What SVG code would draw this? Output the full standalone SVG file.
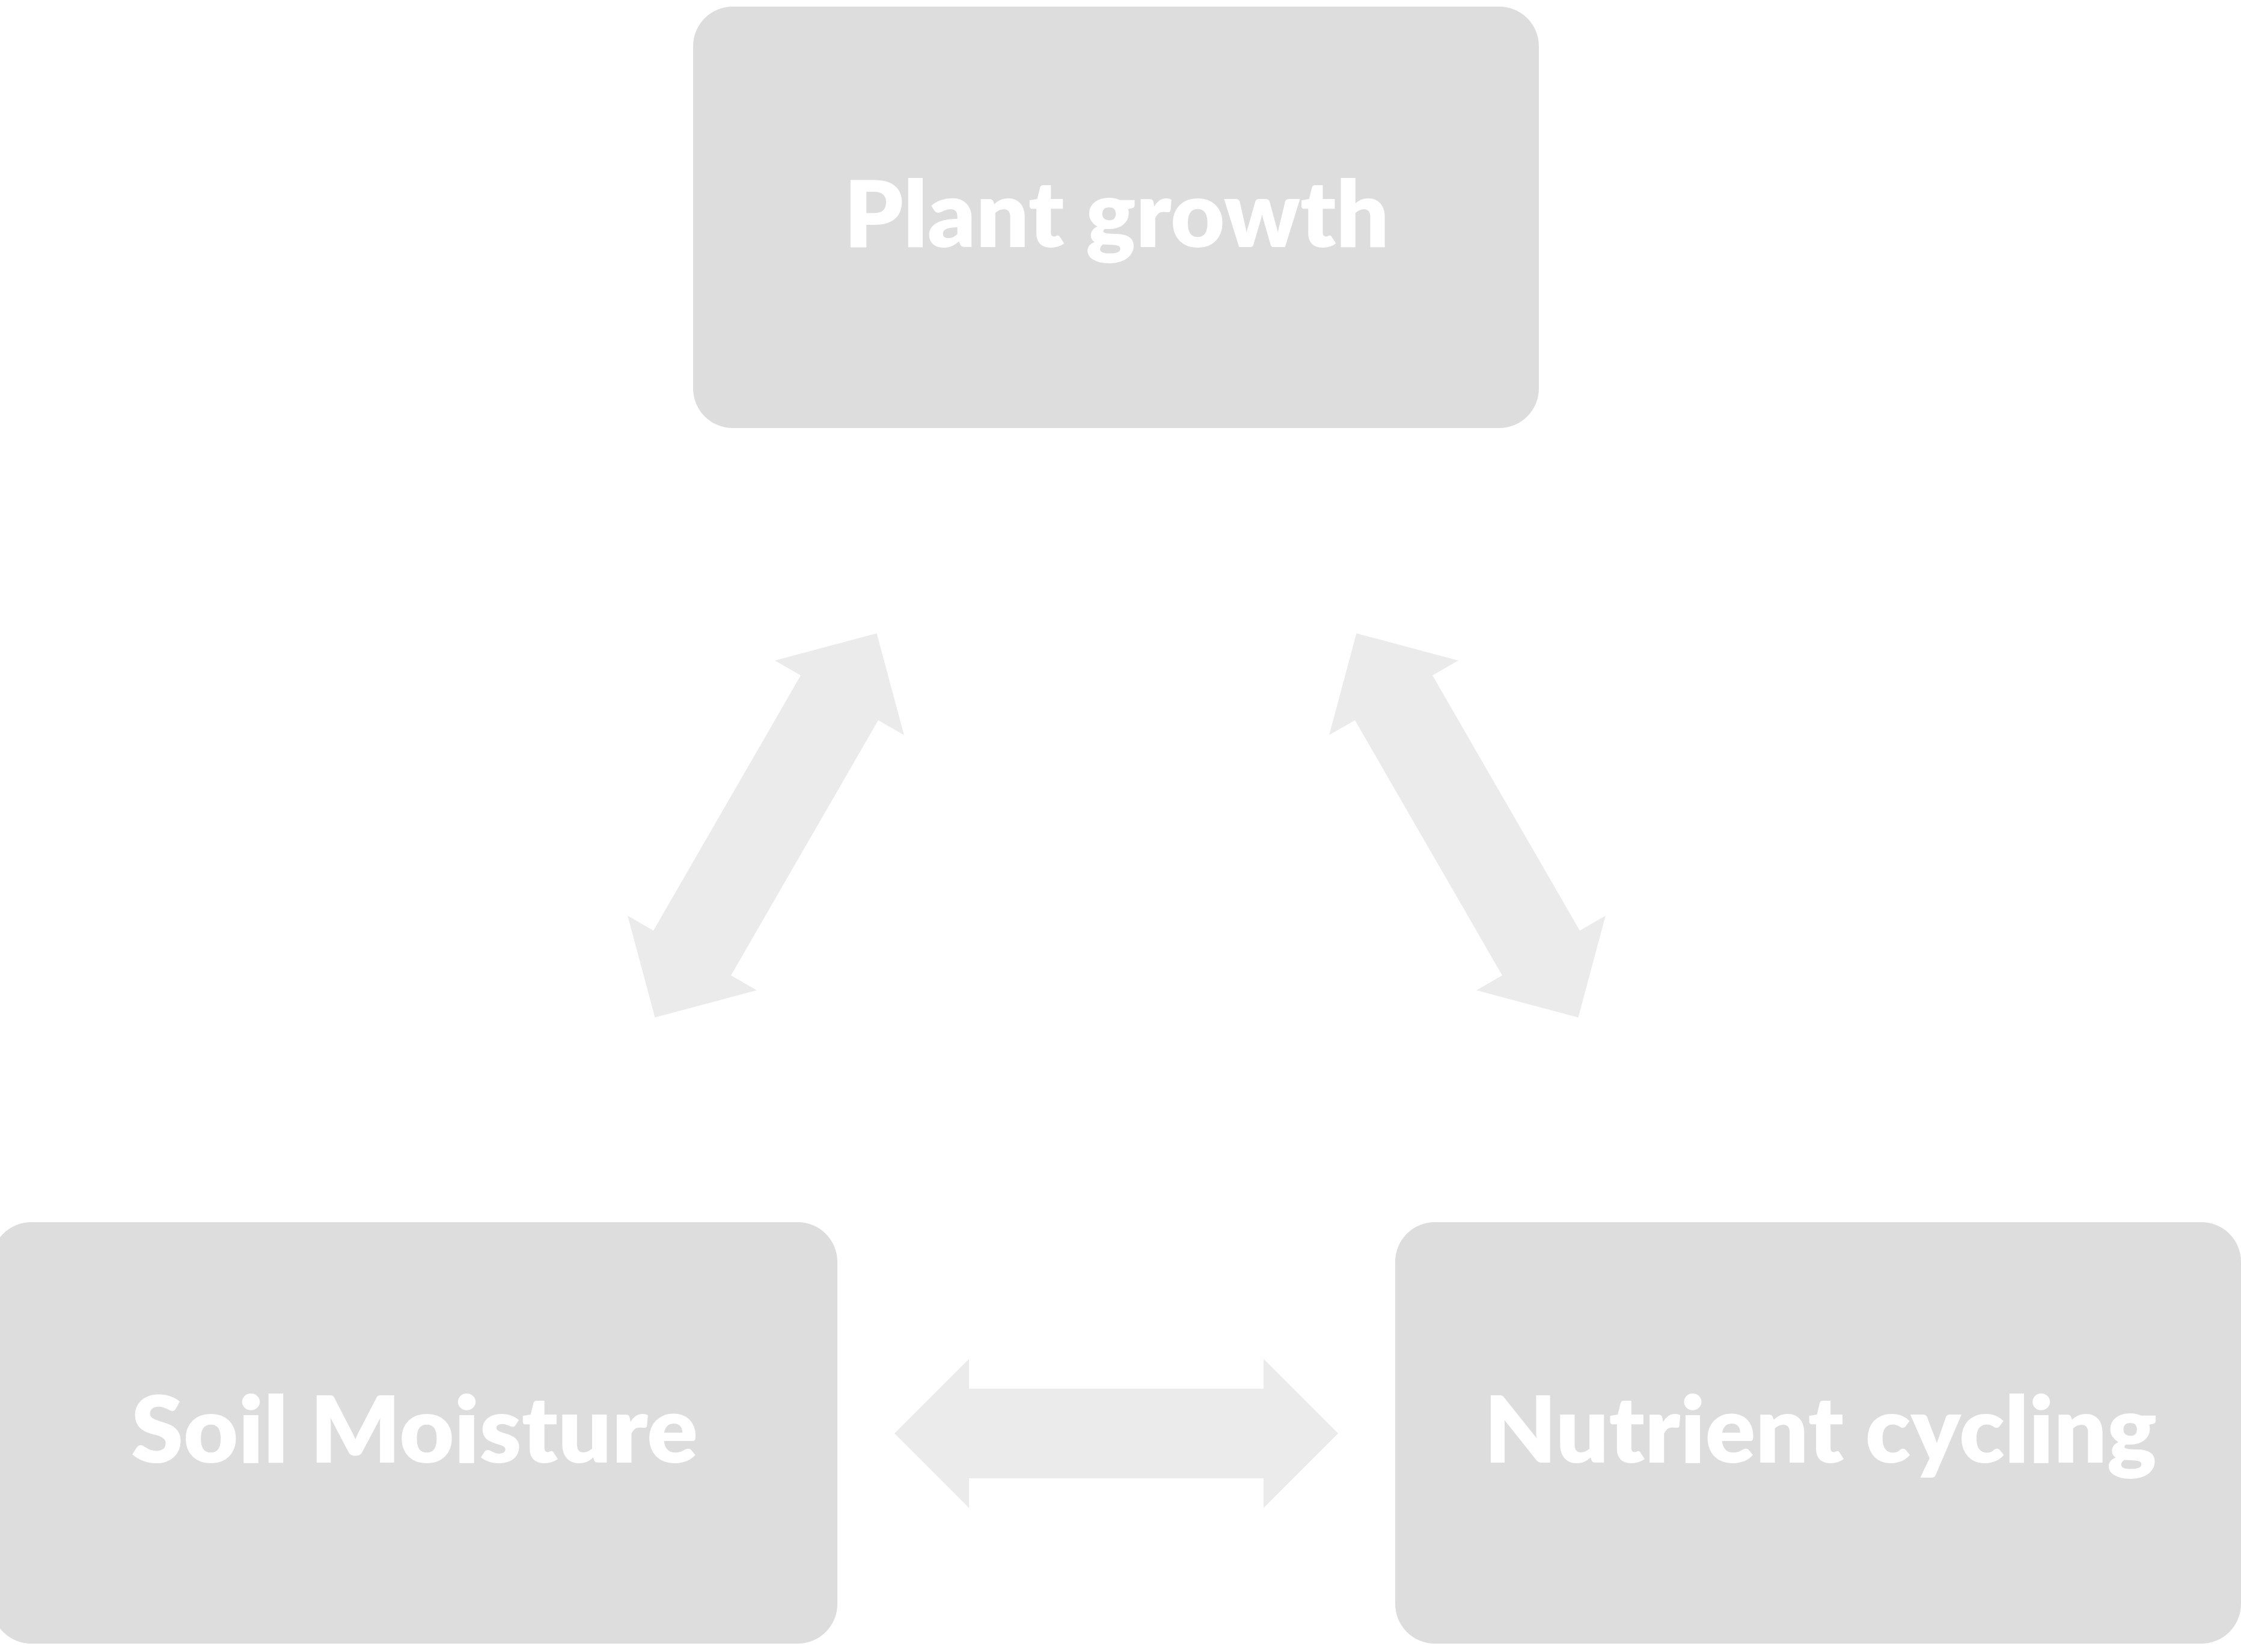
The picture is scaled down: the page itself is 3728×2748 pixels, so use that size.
<svg xmlns="http://www.w3.org/2000/svg" xmlns:xlink="http://www.w3.org/1999/xlink" width="3728" height="2748" viewBox="0 0 3728 2748">
  <style>
    .box { fill: #DDDDDD; }
    .arrow { fill: #EBEBEB; }
    .label { font-family: Lato, "Open Sans", "Liberation Sans", sans-serif; font-weight: 800; font-size: 153px; fill: #FFFFFF; text-anchor: middle; }
  </style>
  <defs>
    <polygon id="dblarrow" points="-369,0 -245,-124 -245,-74.5 245,-74.5 245,-124 369,0 245,124 245,74.5 -245,74.5 -245,124"/>
  </defs>
  <rect width="3728" height="2748" fill="#FFFFFF"/>
  <g id="connectors">
    <use xlink:href="#dblarrow" class="arrow" transform="translate(1274,1373) rotate(-60)"/>
    <use xlink:href="#dblarrow" class="arrow" transform="translate(2441,1373) rotate(60)"/>
    <use xlink:href="#dblarrow" class="arrow" transform="translate(1857,2384.5)"/>
  </g>
  <g id="node-plant-growth">
    <rect class="box" x="1153" y="11" width="1407" height="701" rx="66" ry="66"/>
    <text class="label" x="1857.5" y="410.5" textLength="907" lengthAdjust="spacingAndGlyphs">Plant growth</text>
  </g>
  <g id="node-soil-moisture">
    <rect class="box" x="-14" y="2033" width="1407" height="701" rx="66" ry="66"/>
    <text class="label" x="689.5" y="2432.5" textLength="943" lengthAdjust="spacingAndGlyphs">Soil Moisture</text>
  </g>
  <g id="node-nutrient-cycling">
    <rect class="box" x="2321" y="2033" width="1407" height="701" rx="66" ry="66"/>
    <text class="label" x="3028.5" y="2432.5" textLength="1119" lengthAdjust="spacingAndGlyphs">Nutrient cycling</text>
  </g>
</svg>
